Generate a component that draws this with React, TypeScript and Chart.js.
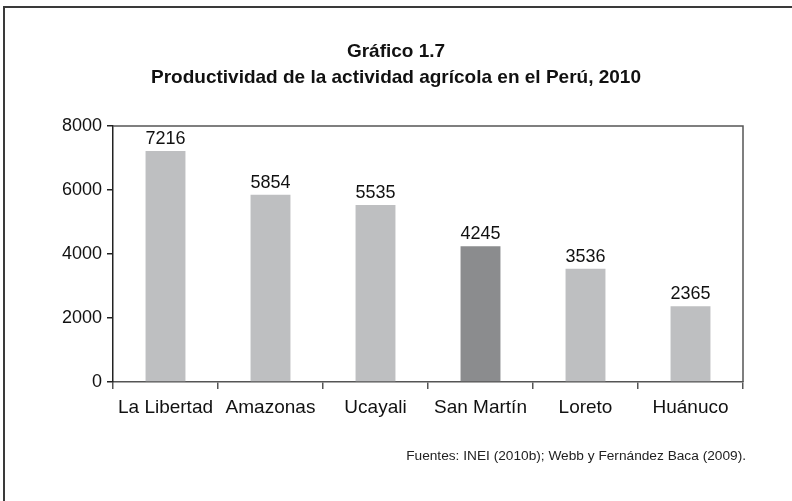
import React, { useEffect, useRef } from "react";
import { Chart, registerables } from "chart.js";

Chart.register(...registerables);

const categories = ["La Libertad", "Amazonas", "Ucayali", "San Martín", "Loreto", "Huánuco"];
const values = [7216, 5854, 5535, 4245, 3536, 2365];
const barColors = ["#bebfc1", "#bebfc1", "#bebfc1", "#8b8c8e", "#bebfc1", "#bebfc1"];
const yTicks = [0, 2000, 4000, 6000, 8000];
const titleLines = ["Gráfico 1.7", "Productividad de la actividad agrícola en el Perú, 2010"];
const sourceText = "Fuentes: INEI (2010b); Webb y Fernández Baca (2009).";

const FONT = "'Liberation Sans', Arial, Helvetica, sans-serif";

const decorPlugin = {
  id: "decor",
  afterDatasetsDraw(chart: any) {
    const { ctx, chartArea } = chart;
    ctx.save();
    // box top & right
    ctx.strokeStyle = "#555";
    ctx.lineWidth = 1.5;
    ctx.beginPath();
    ctx.moveTo(chartArea.left, chartArea.top);
    ctx.lineTo(chartArea.right, chartArea.top);
    ctx.lineTo(chartArea.right, chartArea.bottom);
    ctx.stroke();
    // data labels
    const meta = chart.getDatasetMeta(0);
    ctx.fillStyle = "#111";
    ctx.font = `18px ${FONT}`;
    ctx.textAlign = "center";
    ctx.textBaseline = "alphabetic";
    meta.data.forEach((bar: any, i: number) => {
      ctx.fillText(String(values[i]), bar.x, bar.y - 7);
    });
    // titles
    const cx = chart.width / 2;
    ctx.font = `bold 19px ${FONT}`;
    ctx.fillStyle = "#111";
    ctx.textBaseline = "middle";
    ctx.fillText(titleLines[0], cx, 52);
    ctx.fillText(titleLines[1], cx, 78);
    // source
    ctx.font = `13.7px ${FONT}`;
    ctx.textAlign = "right";
    ctx.fillStyle = "#222";
    ctx.fillText(sourceText, chartArea.right + 3, 456);
    ctx.restore();
  },
};

export default function App() {
  const ref = useRef<HTMLCanvasElement>(null);
  useEffect(() => {
    if (!ref.current) return;
    const chart = new Chart(ref.current, {
      type: "bar",
      data: {
        labels: categories,
        datasets: [
          {
            data: values,
            backgroundColor: barColors,
            borderWidth: 0,
            barPercentage: 0.38,
            categoryPercentage: 1,
          },
        ],
      },
      options: {
        animation: false,
        responsive: false,
        maintainAspectRatio: false,
        devicePixelRatio: 1,
        layout: { padding: { top: 126, right: 49, left: 0, bottom: 0 } },
        plugins: {
          legend: { display: false },
          title: { display: false },
          tooltip: { enabled: false },
        },
        scales: {
          x: {
            offset: true,
            grid: {
              display: true,
              offset: true,
              drawOnChartArea: false,
              drawTicks: true,
              tickLength: 7,
              color: "#555",
              lineWidth: 1.5,
            },
            border: { display: true, color: "#555", width: 1.5 },
            ticks: {
              color: "#111",
              font: { family: FONT, size: 19 },
              padding: 7,
              maxRotation: 0,
              autoSkip: false,
            },
            afterFit(scale: any) {
              scale.height = 119;
            },
          },
          y: {
            min: 0,
            max: 8000,
            afterBuildTicks(scale: any) {
              scale.ticks = yTicks.map((v) => ({ value: v }));
            },
            grid: {
              display: true,
              drawOnChartArea: false,
              drawTicks: true,
              tickLength: 6,
              color: "#222",
              lineWidth: 1.5,
            },
            border: { display: true, color: "#222", width: 1.5 },
            ticks: {
              color: "#111",
              font: { family: FONT, size: 18 },
              padding: 5,
              callback: (v: any) => String(v),
            },
            afterFit(scale: any) {
              scale.width = 113;
            },
          },
        },
      },
      plugins: [decorPlugin],
    });
    return () => chart.destroy();
  }, []);

  return (
    <div style={{ position: "fixed", left: 0, top: 0, width: 792, height: 501, background: "#fff", overflow: "hidden" }}>
      <div
        style={{
          position: "absolute",
          left: 3,
          top: 6,
          width: 800,
          height: 600,
          borderTop: "2px solid #3a3a3a",
          borderLeft: "2px solid #3a3a3a",
        }}
      />
      <canvas ref={ref} width={792} height={501} style={{ position: "absolute", left: 0, top: 0, width: 792, height: 501 }} />
    </div>
  );
}
